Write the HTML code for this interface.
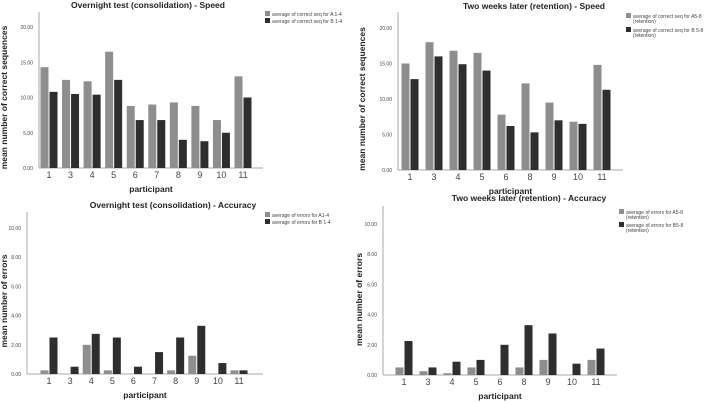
<!DOCTYPE html>
<html><head><meta charset="utf-8"><style>
body{margin:0;background:#fff;width:708px;height:402px;overflow:hidden;font-family:"Liberation Sans",sans-serif}
svg{display:block}
</style></head><body>
<svg id="c" width="708" height="402"></svg>
<script>
const cats1=["1","3","4","5","6","7","8","9","10","11"];
const p1A=[14.3,12.5,12.3,16.5,8.8,9.0,9.3,8.8,6.8,13.0];
const p1B=[10.8,10.5,10.4,12.5,6.8,6.8,4.0,3.8,5.0,10.0];
const ticks1=[0,5,10,15,20];
const cats2=["1","3","4","5","6","8","9","10","11"];
const p2A=[15.0,18.0,16.8,16.5,7.8,12.2,9.5,6.8,14.8];
const p2B=[12.8,16.0,14.9,14.0,6.2,5.3,7.0,6.5,11.3];
const p3A=[0.25,0,2.0,0.25,0,0,0.25,1.25,0,0.25];
const p3B=[2.5,0.5,2.75,2.5,0.5,1.5,2.5,3.3,0.75,0.25];
const ticks3=[0,2,4,6,8,10];
const p4A=[0.5,0.25,0.12,0.5,0,0.5,1.0,0,1.0];
const p4B=[2.25,0.5,0.88,1.0,2.0,3.3,2.75,0.75,1.75];
const NS="http://www.w3.org/2000/svg";
const svg=document.getElementById('c');
function mk(tag,at,parent,txt){const e=document.createElementNS(NS,tag);for(const k in at)e.setAttribute(k,at[k]);if(txt!==undefined)e.textContent=txt;(parent||svg).appendChild(e);return e;}
function panel(o){
 const g=mk('g',{});
 
 
 const y=v=>o.base-(v/o.tmax)*(o.base-o.ttop);
 const n=o.cats.length, bw=(o.c11-o.c1)/(n-1);
 const xc=i=>o.c1+i*bw;
 const t=mk('text',{x:o.tx,y:o.ty,'font-size':8.5,'font-weight':'bold','text-anchor':'middle',fill:'#222'},g,o.title);
 
 
 mk('line',{x1:o.ax,y1:o.atop,x2:o.ax,y2:o.base,stroke:'#aaa','stroke-width':1},g);
 const xa=mk('line',{x1:o.ax,y1:o.base,x2:o.aright,y2:o.base,stroke:'#aaa','stroke-width':1},g);
 
 
 o.ticks.forEach(v=>{
  const tl=mk('text',{x:o.ax-6,y:y(v)+2,'font-size':5,'text-anchor':'end',fill:'#444'},g,v.toFixed(2));
  
  
 });
 const w=8;
 o.cats.forEach((c,i)=>{
  const a=mk('rect',{x:xc(i)-w-0.5,y:y(o.A[i]),width:w,height:o.base-y(o.A[i]),fill:'#8e8e8e'},g);
  
  
  const b=mk('rect',{x:xc(i)+0.5,y:y(o.B[i]),width:w,height:o.base-y(o.B[i]),fill:'#2e2e2e'},g);
  
  
  const cl=mk('text',{x:xc(i),y:o.base+10,'font-size':9,'text-anchor':'middle',fill:'#444'},g,c);
  
  
 });
 const xl=mk('text',{x:(o.ax+o.aright)/2,y:o.base+24,'font-size':8.5,'font-weight':'bold','text-anchor':'middle',fill:'#222'},g,'participant');
 
 
 const cy=(o.ttop+o.base)/2;
 const yl=mk('text',{x:o.ylx,y:cy,'font-size':8.5,'font-weight':'bold','text-anchor':'middle',fill:'#222',transform:`rotate(-90 ${o.ylx} ${cy})`},g,o.ylabel);
 
 
 o.leg.forEach((L,k)=>{
  const ly=o.ly[k];
  const s=mk('rect',{x:o.lx,y:ly-3,width:5,height:5,fill:k?'#2e2e2e':'#8e8e8e'},g);
  
  
  L.forEach((line,j)=>{
   const lt=mk('text',{x:o.lx+7,y:ly+2+j*5,'font-size':5,fill:'#444'},g,line);
   
   
  });
 });
}
panel({name:'overnight-speed-panel',title:'Overnight test (consolidation) - Speed',tx:148,ty:8,cats:cats1,A:p1A,B:p1B,ticks:ticks1,tmax:20,ax:39,atop:12,base:168,ttop:27,aright:263,c1:49,c11:243,ylx:7,ylabel:'mean number of correct sequences',lx:265,ly:[14,21],leg:[['average of correct seq for A 1-4'],['average of correct seq for B 1-4']]});
panel({name:'retention-speed-panel',title:'Two weeks later (retention) - Speed',tx:534,ty:9,cats:cats2,A:p2A,B:p2B,ticks:ticks1,tmax:20,ax:398,atop:12,base:170,ttop:28,aright:623,c1:410,c11:602,ylx:365,ylabel:'mean number of correct sequences',lx:626,ly:[16,30],leg:[['average of correct seq for A5-8','(retention)'],['average of correct seq for B 5-8','(retention)']]});
panel({name:'overnight-accuracy-panel',title:'Overnight test (consolidation) - Accuracy',tx:173,ty:208,cats:cats1,A:p3A,B:p3B,ticks:ticks3,tmax:10,ax:27,atop:212,base:374,ttop:228,aright:263,c1:49,c11:239,ylx:7,ylabel:'mean number of errors',lx:265,ly:[215,222],leg:[['average of errors for A1-4'],['average of errors for B 1-4']]});
panel({name:'retention-accuracy-panel',title:'Two weeks later (retention) - Accuracy',tx:529,ty:201,cats:cats2,A:p4A,B:p4B,ticks:ticks3,tmax:10,ax:383,atop:206,base:375,ttop:224,aright:617,c1:404,c11:596,ylx:362,ylabel:'mean number of errors',lx:619,ly:[212,225],leg:[['average of errors for A5-8','(retention)'],['average of errors for B5-8','(retention)']]});
</script>
</body></html>
